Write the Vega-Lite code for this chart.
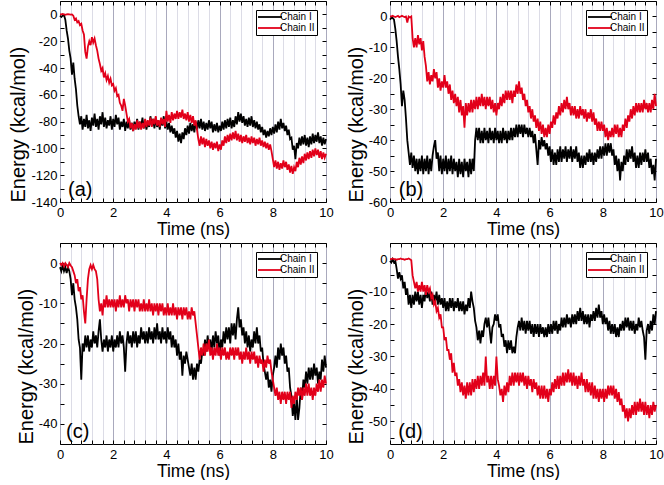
{
"$schema":"https://vega.github.io/schema/vega-lite/v6.json",
"background":"white",
"padding":{"left":8,"top":0,"right":0,"bottom":0},
"bounds":"flush",
"columns":2,
"spacing":{"row":41,"column":64},
"config":{
 "font":"Liberation Sans",
 "view":{"stroke":"black","strokeWidth":1},
 "axis":{"labelFont":"Liberation Sans","labelFontSize":13,"labelColor":"black","titleFont":"Liberation Sans","titleFontWeight":"normal","titleColor":"black","tickColor":"black","tickSize":-4,"domain":false,"labelOverlap":false,"labelFlush":false,"grid":false},
 "axisX":{"titleFontSize":17.5},
 "axisY":{"titleFontSize":20},
 "line":{"strokeWidth":1.8,"clip":true},
 "legend":{"orient":"top-right","offset":9,"strokeColor":"black","fillColor":"white","padding":2,"symbolType":"M-3,0H3","symbolSize":64,"symbolStrokeWidth":1,"symbolOffset":7,"labelOffset":5,"labelFont":"Liberation Sans","labelFontSize":10,"labelColor":"black","rowPadding":1}
},
"datasets":{"md":[
{"t":0,"a1":-1,"a2":0,"b1":-1,"b2":0,"c1":-1,"c2":0,"d1":-0.5,"d2":0},
{"t":0.05,"a1":-2,"a2":0,"b1":-0.5,"b2":0,"c1":-2,"c2":-0.5,"d1":-1,"d2":0},
{"t":0.1,"a1":-1,"a2":0.3,"b1":-0.5,"b2":0.2,"c1":-0.5,"c2":0,"d1":0,"d2":0.2},
{"t":0.15,"a1":-0.5,"a2":0,"b1":-1,"b2":0,"c1":-2,"c2":-0.8,"d1":-1,"d2":0},
{"t":0.2,"a1":-4,"a2":-0.3,"b1":-4,"b2":-0.2,"c1":-1,"c2":0,"d1":-0.5,"d2":0},
{"t":0.25,"a1":-12,"a2":0,"b1":-8,"b2":0,"c1":-2.5,"c2":-0.5,"d1":-3,"d2":-0.2},
{"t":0.3,"a1":-18,"a2":0.2,"b1":-13,"b2":0.2,"c1":-1,"c2":-1,"d1":-6,"d2":0},
{"t":0.35,"a1":-27,"a2":0,"b1":-17,"b2":-0.2,"c1":-2,"c2":0,"d1":-4,"d2":0},
{"t":0.4,"a1":-33,"a2":-0.2,"b1":-22,"b2":0,"c1":-4,"c2":-0.6,"d1":-6,"d2":0.2},
{"t":0.45,"a1":-45,"a2":0,"b1":-29,"b2":0.2,"c1":-8,"c2":-1,"d1":-5,"d2":0},
{"t":0.5,"a1":-36,"a2":-1,"b1":-24,"b2":0,"c1":-5,"c2":-2,"d1":-9,"d2":0},
{"t":0.55,"a1":-48,"a2":-4,"b1":-27,"b2":-0.2,"c1":-9,"c2":-3,"d1":-7,"d2":-0.2},
{"t":0.6,"a1":-56,"a2":-3,"b1":-33,"b2":0,"c1":-11,"c2":-5,"d1":-11,"d2":0},
{"t":0.65,"a1":-68,"a2":-6,"b1":-40,"b2":-2,"c1":-14,"c2":-4,"d1":-9,"d2":0},
{"t":0.7,"a1":-76,"a2":-5,"b1":-44,"b2":0,"c1":-19,"c2":-7,"d1":-14,"d2":0.2},
{"t":0.75,"a1":-82,"a2":-8,"b1":-48,"b2":-0.3,"c1":-21,"c2":-6,"d1":-11,"d2":0},
{"t":0.8,"a1":-76,"a2":-7,"b1":-44,"b2":0,"c1":-29,"c2":-9,"d1":-15,"d2":-0.3},
{"t":0.85,"a1":-86,"a2":-12,"b1":-49,"b2":-7,"c1":-20,"c2":-8,"d1":-11,"d2":-5},
{"t":0.9,"a1":-78,"a2":-15,"b1":-45,"b2":-10,"c1":-22,"c2":-12,"d1":-14,"d2":-7},
{"t":0.95,"a1":-84,"a2":-28,"b1":-50,"b2":-7,"c1":-18,"c2":-15,"d1":-10,"d2":-9},
{"t":1,"a1":-75,"a2":-33,"b1":-46,"b2":-10,"c1":-21,"c2":-9,"d1":-13,"d2":-7},
{"t":1.05,"a1":-85,"a2":-24,"b1":-51,"b2":-6,"c1":-18,"c2":-4,"d1":-10,"d2":-10},
{"t":1.1,"a1":-79,"a2":-20,"b1":-46,"b2":-9,"c1":-22,"c2":-1.5,"d1":-14,"d2":-8},
{"t":1.15,"a1":-87,"a2":-23,"b1":-50,"b2":-7,"c1":-19,"c2":-0.5,"d1":-11,"d2":-10},
{"t":1.2,"a1":-77,"a2":-17,"b1":-45,"b2":-11,"c1":-21,"c2":-1.5,"d1":-15,"d2":-7},
{"t":1.25,"a1":-83,"a2":-21,"b1":-51,"b2":-8,"c1":-17,"c2":-0.5,"d1":-11,"d2":-10},
{"t":1.3,"a1":-74,"a2":-18,"b1":-46,"b2":-13,"c1":-20,"c2":-1.5,"d1":-13,"d2":-8},
{"t":1.35,"a1":-84,"a2":-23,"b1":-50,"b2":-16,"c1":-18,"c2":-2,"d1":-9,"d2":-11},
{"t":1.4,"a1":-78,"a2":-27,"b1":-45,"b2":-21,"c1":-21,"c2":-4,"d1":-12,"d2":-8},
{"t":1.45,"a1":-86,"a2":-33,"b1":-51,"b2":-18,"c1":-17,"c2":-9,"d1":-10,"d2":-10},
{"t":1.5,"a1":-76,"a2":-37,"b1":-46,"b2":-22,"c1":-14,"c2":-12,"d1":-13,"d2":-9},
{"t":1.55,"a1":-82,"a2":-42,"b1":-50,"b2":-19,"c1":-19,"c2":-10,"d1":-10,"d2":-12},
{"t":1.6,"a1":-73,"a2":-40,"b1":-45,"b2":-21,"c1":-22,"c2":-13,"d1":-14,"d2":-11},
{"t":1.65,"a1":-84,"a2":-47,"b1":-42,"b2":-17,"c1":-19,"c2":-9,"d1":-11,"d2":-14},
{"t":1.7,"a1":-77,"a2":-44,"b1":-40,"b2":-20,"c1":-21,"c2":-11,"d1":-13,"d2":-13},
{"t":1.75,"a1":-85,"a2":-49,"b1":-46,"b2":-18,"c1":-18,"c2":-8,"d1":-10,"d2":-16},
{"t":1.8,"a1":-79,"a2":-46,"b1":-44,"b2":-23,"c1":-22,"c2":-11,"d1":-14,"d2":-15},
{"t":1.85,"a1":-83,"a2":-51,"b1":-50,"b2":-20,"c1":-19,"c2":-9,"d1":-11,"d2":-18},
{"t":1.9,"a1":-76,"a2":-48,"b1":-45,"b2":-24,"c1":-21,"c2":-11,"d1":-14,"d2":-17},
{"t":1.95,"a1":-86,"a2":-53,"b1":-51,"b2":-21,"c1":-18,"c2":-9,"d1":-12,"d2":-21},
{"t":2,"a1":-78,"a2":-52,"b1":-46,"b2":-23,"c1":-22,"c2":-11,"d1":-15,"d2":-21},
{"t":2.05,"a1":-84,"a2":-57,"b1":-50,"b2":-19,"c1":-19,"c2":-9,"d1":-12,"d2":-25},
{"t":2.1,"a1":-75,"a2":-55,"b1":-45,"b2":-23,"c1":-21,"c2":-12,"d1":-16,"d2":-24},
{"t":2.15,"a1":-82,"a2":-61,"b1":-51,"b2":-21,"c1":-18,"c2":-9,"d1":-13,"d2":-28},
{"t":2.2,"a1":-77,"a2":-60,"b1":-46,"b2":-25,"c1":-21,"c2":-11,"d1":-16,"d2":-28},
{"t":2.25,"a1":-86,"a2":-66,"b1":-50,"b2":-22,"c1":-17,"c2":-8,"d1":-12,"d2":-31},
{"t":2.3,"a1":-80,"a2":-68,"b1":-45,"b2":-27,"c1":-20,"c2":-11,"d1":-15,"d2":-29},
{"t":2.35,"a1":-84,"a2":-72,"b1":-51,"b2":-24,"c1":-18,"c2":-9,"d1":-12,"d2":-35},
{"t":2.4,"a1":-78,"a2":-63,"b1":-46,"b2":-28,"c1":-21,"c2":-11,"d1":-16,"d2":-32},
{"t":2.45,"a1":-87,"a2":-68,"b1":-50,"b2":-25,"c1":-27,"c2":-8,"d1":-13,"d2":-36},
{"t":2.5,"a1":-80,"a2":-74,"b1":-47,"b2":-29,"c1":-20,"c2":-10,"d1":-15,"d2":-35},
{"t":2.55,"a1":-85,"a2":-80,"b1":-52,"b2":-26,"c1":-17,"c2":-9,"d1":-12,"d2":-39},
{"t":2.6,"a1":-79,"a2":-78,"b1":-46,"b2":-31,"c1":-20,"c2":-12,"d1":-16,"d2":-37},
{"t":2.65,"a1":-86,"a2":-85,"b1":-51,"b2":-27,"c1":-18,"c2":-9,"d1":-13,"d2":-41},
{"t":2.7,"a1":-81,"a2":-81,"b1":-47,"b2":-32,"c1":-21,"c2":-11,"d1":-16,"d2":-38},
{"t":2.75,"a1":-87,"a2":-87,"b1":-52,"b2":-29,"c1":-17,"c2":-9,"d1":-13,"d2":-42},
{"t":2.8,"a1":-80,"a2":-82,"b1":-46,"b2":-36,"c1":-20,"c2":-12,"d1":-17,"d2":-39},
{"t":2.85,"a1":-85,"a2":-86,"b1":-50,"b2":-28,"c1":-17,"c2":-9,"d1":-14,"d2":-43},
{"t":2.9,"a1":-78,"a2":-79,"b1":-47,"b2":-32,"c1":-21,"c2":-11,"d1":-16,"d2":-38},
{"t":2.95,"a1":-86,"a2":-85,"b1":-52,"b2":-28,"c1":-18,"c2":-9,"d1":-12,"d2":-42},
{"t":3,"a1":-80,"a2":-80,"b1":-46,"b2":-31,"c1":-20,"c2":-12,"d1":-15,"d2":-38},
{"t":3.05,"a1":-84,"a2":-86,"b1":-51,"b2":-27,"c1":-16,"c2":-10,"d1":-10,"d2":-42},
{"t":3.1,"a1":-77,"a2":-81,"b1":-46,"b2":-31,"c1":-19,"c2":-12,"d1":-13,"d2":-37},
{"t":3.15,"a1":-85,"a2":-85,"b1":-50,"b2":-27,"c1":-17,"c2":-9,"d1":-15,"d2":-41},
{"t":3.2,"a1":-79,"a2":-78,"b1":-40,"b2":-30,"c1":-20,"c2":-12,"d1":-19,"d2":-37},
{"t":3.25,"a1":-86,"a2":-84,"b1":-36,"b2":-26,"c1":-17,"c2":-10,"d1":-21,"d2":-40},
{"t":3.3,"a1":-80,"a2":-79,"b1":-40,"b2":-30,"c1":-20,"c2":-12,"d1":-25,"d2":-36},
{"t":3.35,"a1":-84,"a2":-83,"b1":-36,"b2":-26,"c1":-16,"c2":-9,"d1":-22,"d2":-40},
{"t":3.4,"a1":-76,"a2":-77,"b1":-41,"b2":-29,"c1":-19,"c2":-12,"d1":-26,"d2":-36},
{"t":3.45,"a1":-83,"a2":-84,"b1":-37,"b2":-25,"c1":-17,"c2":-10,"d1":-22,"d2":-39},
{"t":3.5,"a1":-78,"a2":-78,"b1":-41,"b2":-29,"c1":-20,"c2":-13,"d1":-24,"d2":-35},
{"t":3.55,"a1":-85,"a2":-82,"b1":-36,"b2":-26,"c1":-16,"c2":-10,"d1":-20,"d2":-39},
{"t":3.6,"a1":-77,"a2":-76,"b1":-40,"b2":-30,"c1":-19,"c2":-12,"d1":-18,"d2":-30},
{"t":3.65,"a1":-84,"a2":-83,"b1":-37,"b2":-26,"c1":-15,"c2":-10,"d1":-21,"d2":-38},
{"t":3.7,"a1":-79,"a2":-79,"b1":-41,"b2":-29,"c1":-19,"c2":-13,"d1":-18,"d2":-36},
{"t":3.75,"a1":-86,"a2":-84,"b1":-36,"b2":-26,"c1":-17,"c2":-10,"d1":-22,"d2":-40},
{"t":3.8,"a1":-78,"a2":-77,"b1":-40,"b2":-30,"c1":-20,"c2":-12,"d1":-26,"d2":-36},
{"t":3.85,"a1":-83,"a2":-82,"b1":-37,"b2":-27,"c1":-16,"c2":-10,"d1":-21,"d2":-40},
{"t":3.9,"a1":-76,"a2":-78,"b1":-41,"b2":-31,"c1":-19,"c2":-13,"d1":-20,"d2":-36},
{"t":3.95,"a1":-85,"a2":-84,"b1":-36,"b2":-28,"c1":-17,"c2":-11,"d1":-17,"d2":-39},
{"t":4,"a1":-80,"a2":-72,"b1":-40,"b2":-32,"c1":-20,"c2":-13,"d1":-19,"d2":-30},
{"t":4.05,"a1":-86,"a2":-80,"b1":-37,"b2":-28,"c1":-16,"c2":-10,"d1":-17,"d2":-37},
{"t":4.1,"a1":-81,"a2":-75,"b1":-41,"b2":-30,"c1":-19,"c2":-13,"d1":-21,"d2":-39},
{"t":4.15,"a1":-88,"a2":-81,"b1":-37,"b2":-26,"c1":-17,"c2":-11,"d1":-20,"d2":-42},
{"t":4.2,"a1":-83,"a2":-73,"b1":-41,"b2":-29,"c1":-21,"c2":-13,"d1":-24,"d2":-40},
{"t":4.25,"a1":-89,"a2":-79,"b1":-36,"b2":-25,"c1":-18,"c2":-10,"d1":-23,"d2":-44},
{"t":4.3,"a1":-85,"a2":-74,"b1":-40,"b2":-28,"c1":-21,"c2":-13,"d1":-27,"d2":-39},
{"t":4.35,"a1":-92,"a2":-78,"b1":-37,"b2":-24,"c1":-19,"c2":-11,"d1":-25,"d2":-42},
{"t":4.4,"a1":-87,"a2":-72,"b1":-41,"b2":-27,"c1":-23,"c2":-14,"d1":-29,"d2":-38},
{"t":4.45,"a1":-95,"a2":-78,"b1":-37,"b2":-24,"c1":-20,"c2":-11,"d1":-25,"d2":-41},
{"t":4.5,"a1":-89,"a2":-73,"b1":-40,"b2":-27,"c1":-24,"c2":-13,"d1":-28,"d2":-36},
{"t":4.55,"a1":-96,"a2":-77,"b1":-36,"b2":-24,"c1":-22,"c2":-11,"d1":-25,"d2":-39},
{"t":4.6,"a1":-88,"a2":-71,"b1":-40,"b2":-28,"c1":-28,"c2":-14,"d1":-29,"d2":-35},
{"t":4.65,"a1":-93,"a2":-78,"b1":-36,"b2":-24,"c1":-23,"c2":-11,"d1":-27,"d2":-39},
{"t":4.7,"a1":-85,"a2":-74,"b1":-39,"b2":-26,"c1":-25,"c2":-13,"d1":-29,"d2":-35},
{"t":4.75,"a1":-90,"a2":-79,"b1":-35,"b2":-22,"c1":-22,"c2":-11,"d1":-24,"d2":-38},
{"t":4.8,"a1":-83,"a2":-73,"b1":-39,"b2":-25,"c1":-24,"c2":-14,"d1":-21,"d2":-35},
{"t":4.85,"a1":-89,"a2":-80,"b1":-35,"b2":-21,"c1":-26,"c2":-12,"d1":-19,"d2":-39},
{"t":4.9,"a1":-81,"a2":-75,"b1":-38,"b2":-25,"c1":-28,"c2":-14,"d1":-22,"d2":-35},
{"t":4.95,"a1":-87,"a2":-81,"b1":-35,"b2":-23,"c1":-25,"c2":-11,"d1":-18,"d2":-38},
{"t":5,"a1":-82,"a2":-76,"b1":-39,"b2":-27,"c1":-29,"c2":-13,"d1":-22,"d2":-35},
{"t":5.05,"a1":-88,"a2":-83,"b1":-35,"b2":-25,"c1":-26,"c2":-12,"d1":-19,"d2":-39},
{"t":5.1,"a1":-80,"a2":-79,"b1":-38,"b2":-29,"c1":-29,"c2":-15,"d1":-23,"d2":-36},
{"t":5.15,"a1":-86,"a2":-86,"b1":-36,"b2":-27,"c1":-25,"c2":-18,"d1":-19,"d2":-40},
{"t":5.2,"a1":-79,"a2":-93,"b1":-39,"b2":-31,"c1":-27,"c2":-21,"d1":-22,"d2":-36},
{"t":5.25,"a1":-85,"a2":-98,"b1":-36,"b2":-29,"c1":-24,"c2":-24,"d1":-19,"d2":-39},
{"t":5.3,"a1":-78,"a2":-91,"b1":-39,"b2":-33,"c1":-25,"c2":-21,"d1":-23,"d2":-37},
{"t":5.35,"a1":-86,"a2":-97,"b1":-37,"b2":-30,"c1":-22,"c2":-23,"d1":-20,"d2":-41},
{"t":5.4,"a1":-80,"a2":-92,"b1":-41,"b2":-34,"c1":-23,"c2":-20,"d1":-24,"d2":-37},
{"t":5.45,"a1":-87,"a2":-99,"b1":-38,"b2":-32,"c1":-19,"c2":-23,"d1":-20,"d2":-40},
{"t":5.5,"a1":-81,"a2":-93,"b1":-43,"b2":-36,"c1":-22,"c2":-20,"d1":-23,"d2":-38},
{"t":5.55,"a1":-86,"a2":-98,"b1":-48,"b2":-33,"c1":-18,"c2":-22,"d1":-20,"d2":-42},
{"t":5.6,"a1":-79,"a2":-94,"b1":-40,"b2":-37,"c1":-21,"c2":-19,"d1":-24,"d2":-39},
{"t":5.65,"a1":-85,"a2":-100,"b1":-43,"b2":-34,"c1":-19,"c2":-23,"d1":-20,"d2":-43},
{"t":5.7,"a1":-80,"a2":-95,"b1":-39,"b2":-38,"c1":-22,"c2":-21,"d1":-23,"d2":-39},
{"t":5.75,"a1":-88,"a2":-101,"b1":-42,"b2":-35,"c1":-18,"c2":-24,"d1":-21,"d2":-43},
{"t":5.8,"a1":-82,"a2":-96,"b1":-40,"b2":-39,"c1":-21,"c2":-21,"d1":-24,"d2":-39},
{"t":5.85,"a1":-87,"a2":-100,"b1":-43,"b2":-36,"c1":-17,"c2":-23,"d1":-21,"d2":-43},
{"t":5.9,"a1":-81,"a2":-95,"b1":-41,"b2":-39,"c1":-20,"c2":-20,"d1":-24,"d2":-40},
{"t":5.95,"a1":-88,"a2":-102,"b1":-45,"b2":-35,"c1":-18,"c2":-23,"d1":-20,"d2":-44},
{"t":6,"a1":-83,"a2":-97,"b1":-42,"b2":-38,"c1":-23,"c2":-21,"d1":-23,"d2":-40},
{"t":6.05,"a1":-87,"a2":-101,"b1":-47,"b2":-34,"c1":-19,"c2":-24,"d1":-20,"d2":-42},
{"t":6.1,"a1":-80,"a2":-94,"b1":-43,"b2":-36,"c1":-21,"c2":-21,"d1":-23,"d2":-38},
{"t":6.15,"a1":-86,"a2":-98,"b1":-48,"b2":-32,"c1":-17,"c2":-23,"d1":-19,"d2":-41},
{"t":6.2,"a1":-79,"a2":-91,"b1":-44,"b2":-35,"c1":-20,"c2":-21,"d1":-22,"d2":-37},
{"t":6.25,"a1":-85,"a2":-96,"b1":-48,"b2":-31,"c1":-16,"c2":-24,"d1":-19,"d2":-40},
{"t":6.3,"a1":-78,"a2":-90,"b1":-43,"b2":-33,"c1":-19,"c2":-22,"d1":-23,"d2":-36},
{"t":6.35,"a1":-84,"a2":-95,"b1":-47,"b2":-29,"c1":-16,"c2":-24,"d1":-20,"d2":-40},
{"t":6.4,"a1":-77,"a2":-89,"b1":-42,"b2":-32,"c1":-20,"c2":-21,"d1":-22,"d2":-36},
{"t":6.45,"a1":-85,"a2":-94,"b1":-47,"b2":-28,"c1":-15,"c2":-23,"d1":-18,"d2":-39},
{"t":6.5,"a1":-79,"a2":-88,"b1":-43,"b2":-31,"c1":-18,"c2":-21,"d1":-21,"d2":-35},
{"t":6.55,"a1":-84,"a2":-93,"b1":-46,"b2":-27,"c1":-15,"c2":-24,"d1":-18,"d2":-39},
{"t":6.6,"a1":-76,"a2":-87,"b1":-42,"b2":-30,"c1":-19,"c2":-21,"d1":-21,"d2":-35},
{"t":6.65,"a1":-82,"a2":-94,"b1":-47,"b2":-26,"c1":-14,"c2":-23,"d1":-17,"d2":-38},
{"t":6.7,"a1":-73,"a2":-89,"b1":-43,"b2":-30,"c1":-11,"c2":-21,"d1":-20,"d2":-34},
{"t":6.75,"a1":-80,"a2":-95,"b1":-46,"b2":-28,"c1":-16,"c2":-24,"d1":-18,"d2":-38},
{"t":6.8,"a1":-74,"a2":-90,"b1":-42,"b2":-32,"c1":-14,"c2":-22,"d1":-21,"d2":-35},
{"t":6.85,"a1":-81,"a2":-96,"b1":-47,"b2":-29,"c1":-18,"c2":-25,"d1":-17,"d2":-39},
{"t":6.9,"a1":-76,"a2":-91,"b1":-43,"b2":-32,"c1":-16,"c2":-22,"d1":-20,"d2":-35},
{"t":6.95,"a1":-83,"a2":-95,"b1":-46,"b2":-29,"c1":-20,"c2":-24,"d1":-17,"d2":-39},
{"t":7,"a1":-78,"a2":-90,"b1":-42,"b2":-33,"c1":-17,"c2":-21,"d1":-20,"d2":-36},
{"t":7.05,"a1":-84,"a2":-96,"b1":-47,"b2":-30,"c1":-21,"c2":-24,"d1":-16,"d2":-40},
{"t":7.1,"a1":-77,"a2":-92,"b1":-44,"b2":-33,"c1":-18,"c2":-22,"d1":-19,"d2":-36},
{"t":7.15,"a1":-83,"a2":-97,"b1":-49,"b2":-29,"c1":-22,"c2":-25,"d1":-15,"d2":-39},
{"t":7.2,"a1":-76,"a2":-91,"b1":-45,"b2":-32,"c1":-19,"c2":-22,"d1":-19,"d2":-35},
{"t":7.25,"a1":-84,"a2":-96,"b1":-49,"b2":-30,"c1":-21,"c2":-24,"d1":-16,"d2":-39},
{"t":7.3,"a1":-79,"a2":-92,"b1":-45,"b2":-33,"c1":-17,"c2":-22,"d1":-20,"d2":-37},
{"t":7.35,"a1":-85,"a2":-98,"b1":-48,"b2":-30,"c1":-20,"c2":-25,"d1":-17,"d2":-41},
{"t":7.4,"a1":-80,"a2":-93,"b1":-44,"b2":-34,"c1":-16,"c2":-23,"d1":-20,"d2":-37},
{"t":7.45,"a1":-86,"a2":-97,"b1":-47,"b2":-31,"c1":-20,"c2":-26,"d1":-17,"d2":-41},
{"t":7.5,"a1":-82,"a2":-92,"b1":-43,"b2":-33,"c1":-18,"c2":-23,"d1":-21,"d2":-38},
{"t":7.55,"a1":-88,"a2":-98,"b1":-47,"b2":-30,"c1":-22,"c2":-25,"d1":-17,"d2":-42},
{"t":7.6,"a1":-84,"a2":-94,"b1":-44,"b2":-34,"c1":-21,"c2":-24,"d1":-19,"d2":-38},
{"t":7.65,"a1":-90,"a2":-99,"b1":-48,"b2":-31,"c1":-25,"c2":-27,"d1":-16,"d2":-43},
{"t":7.7,"a1":-86,"a2":-95,"b1":-44,"b2":-35,"c1":-27,"c2":-24,"d1":-19,"d2":-39},
{"t":7.75,"a1":-92,"a2":-100,"b1":-47,"b2":-33,"c1":-29,"c2":-26,"d1":-15,"d2":-43},
{"t":7.8,"a1":-87,"a2":-96,"b1":-43,"b2":-37,"c1":-27,"c2":-23,"d1":-18,"d2":-40},
{"t":7.85,"a1":-91,"a2":-101,"b1":-46,"b2":-34,"c1":-31,"c2":-25,"d1":-14,"d2":-44},
{"t":7.9,"a1":-85,"a2":-97,"b1":-42,"b2":-37,"c1":-29,"c2":-24,"d1":-18,"d2":-40},
{"t":7.95,"a1":-90,"a2":-102,"b1":-46,"b2":-34,"c1":-32,"c2":-27,"d1":-16,"d2":-43},
{"t":8,"a1":-84,"a2":-108,"b1":-42,"b2":-37,"c1":-28,"c2":-29,"d1":-20,"d2":-40},
{"t":8.05,"a1":-89,"a2":-114,"b1":-45,"b2":-35,"c1":-26,"c2":-31,"d1":-17,"d2":-44},
{"t":8.1,"a1":-82,"a2":-109,"b1":-41,"b2":-39,"c1":-23,"c2":-33,"d1":-20,"d2":-40},
{"t":8.15,"a1":-88,"a2":-115,"b1":-45,"b2":-36,"c1":-26,"c2":-31,"d1":-18,"d2":-43},
{"t":8.2,"a1":-80,"a2":-110,"b1":-41,"b2":-40,"c1":-21,"c2":-34,"d1":-22,"d2":-39},
{"t":8.25,"a1":-86,"a2":-116,"b1":-44,"b2":-37,"c1":-24,"c2":-32,"d1":-19,"d2":-42},
{"t":8.3,"a1":-78,"a2":-111,"b1":-41,"b2":-39,"c1":-20,"c2":-35,"d1":-23,"d2":-39},
{"t":8.35,"a1":-85,"a2":-115,"b1":-45,"b2":-36,"c1":-23,"c2":-32,"d1":-20,"d2":-42},
{"t":8.4,"a1":-81,"a2":-109,"b1":-43,"b2":-39,"c1":-21,"c2":-34,"d1":-23,"d2":-39},
{"t":8.45,"a1":-87,"a2":-114,"b1":-48,"b2":-35,"c1":-25,"c2":-32,"d1":-20,"d2":-43},
{"t":8.5,"a1":-83,"a2":-110,"b1":-45,"b2":-38,"c1":-23,"c2":-35,"d1":-24,"d2":-40},
{"t":8.55,"a1":-90,"a2":-116,"b1":-50,"b2":-35,"c1":-27,"c2":-32,"d1":-21,"d2":-44},
{"t":8.6,"a1":-86,"a2":-112,"b1":-46,"b2":-39,"c1":-26,"c2":-34,"d1":-24,"d2":-41},
{"t":8.65,"a1":-93,"a2":-118,"b1":-53,"b2":-36,"c1":-31,"c2":-32,"d1":-20,"d2":-45},
{"t":8.7,"a1":-92,"a2":-113,"b1":-47,"b2":-39,"c1":-33,"c2":-36,"d1":-22,"d2":-43},
{"t":8.75,"a1":-101,"a2":-119,"b1":-50,"b2":-35,"c1":-38,"c2":-33,"d1":-19,"d2":-47},
{"t":8.8,"a1":-98,"a2":-114,"b1":-45,"b2":-37,"c1":-35,"c2":-35,"d1":-22,"d2":-45},
{"t":8.85,"a1":-108,"a2":-117,"b1":-48,"b2":-33,"c1":-39,"c2":-32,"d1":-18,"d2":-49},
{"t":8.9,"a1":-96,"a2":-110,"b1":-43,"b2":-36,"c1":-33,"c2":-34,"d1":-21,"d2":-46},
{"t":8.95,"a1":-100,"a2":-114,"b1":-47,"b2":-32,"c1":-39,"c2":-31,"d1":-18,"d2":-50},
{"t":9,"a1":-92,"a2":-107,"b1":-43,"b2":-34,"c1":-36,"c2":-33,"d1":-22,"d2":-46},
{"t":9.05,"a1":-98,"a2":-112,"b1":-46,"b2":-30,"c1":-31,"c2":-31,"d1":-19,"d2":-49},
{"t":9.1,"a1":-91,"a2":-106,"b1":-42,"b2":-33,"c1":-34,"c2":-34,"d1":-22,"d2":-45},
{"t":9.15,"a1":-97,"a2":-111,"b1":-47,"b2":-29,"c1":-29,"c2":-31,"d1":-19,"d2":-48},
{"t":9.2,"a1":-90,"a2":-104,"b1":-44,"b2":-32,"c1":-31,"c2":-33,"d1":-23,"d2":-44},
{"t":9.25,"a1":-98,"a2":-109,"b1":-49,"b2":-28,"c1":-27,"c2":-30,"d1":-20,"d2":-48},
{"t":9.3,"a1":-92,"a2":-103,"b1":-45,"b2":-31,"c1":-30,"c2":-33,"d1":-22,"d2":-44},
{"t":9.35,"a1":-99,"a2":-108,"b1":-49,"b2":-28,"c1":-26,"c2":-30,"d1":-18,"d2":-47},
{"t":9.4,"a1":-91,"a2":-102,"b1":-44,"b2":-31,"c1":-29,"c2":-33,"d1":-21,"d2":-43},
{"t":9.45,"a1":-97,"a2":-107,"b1":-48,"b2":-28,"c1":-26,"c2":-31,"d1":-19,"d2":-47},
{"t":9.5,"a1":-89,"a2":-101,"b1":-44,"b2":-31,"c1":-29,"c2":-34,"d1":-22,"d2":-44},
{"t":9.55,"a1":-96,"a2":-106,"b1":-47,"b2":-27,"c1":-25,"c2":-31,"d1":-24,"d2":-48},
{"t":9.6,"a1":-90,"a2":-100,"b1":-43,"b2":-30,"c1":-28,"c2":-33,"d1":-31,"d2":-44},
{"t":9.65,"a1":-95,"a2":-105,"b1":-47,"b2":-28,"c1":-26,"c2":-30,"d1":-22,"d2":-48},
{"t":9.7,"a1":-88,"a2":-101,"b1":-44,"b2":-31,"c1":-30,"c2":-32,"d1":-20,"d2":-45},
{"t":9.75,"a1":-96,"a2":-107,"b1":-49,"b2":-28,"c1":-27,"c2":-29,"d1":-23,"d2":-49},
{"t":9.8,"a1":-91,"a2":-102,"b1":-46,"b2":-31,"c1":-29,"c2":-32,"d1":-19,"d2":-45},
{"t":9.85,"a1":-98,"a2":-108,"b1":-51,"b2":-27,"c1":-24,"c2":-29,"d1":-22,"d2":-48},
{"t":9.9,"a1":-92,"a2":-103,"b1":-48,"b2":-30,"c1":-27,"c2":-31,"d1":-17,"d2":-44},
{"t":9.95,"a1":-97,"a2":-107,"b1":-53,"b2":-25,"c1":-23,"c2":-28,"d1":-20,"d2":-47},
{"t":10,"a1":-93,"a2":-104,"b1":-46,"b2":-29,"c1":-26,"c2":-30,"d1":-16,"d2":-45}
]},
"concat":[
 {"width":266,"height":201,
  "layer":[
   {"data":{"name":"md"},"transform":[{"fold":["a1","a2"],"as":["chain","E"]}],
    "mark":{"type":"line"},
    "encoding":{
     "x":{"field":"t","type":"quantitative","scale":{"domain":[0,10],"nice":false},"axis":{"title":"Time (ns)","values":[0,0.4,0.8,1.2,1.6,2,2.4,2.8,3.2,3.6,4,4.4,4.8,5.2,5.6,6,6.4,6.8,7.2,7.6,8,8.4,8.8,9.2,9.6,10],"labelExpr":"datum.value % 2 === 0 ? '' + datum.value : ''","labelFontSize":{"condition":{"test":"datum.value % 2 !== 0","value":0},"value":13},"grid":true,"gridColor":{"condition":{"test":"datum.value % 2 === 0","value":"#a9a9bd"},"value":"#dcdce6"},"labelPadding":8,"titlePadding":1}},
     "y":{"field":"E","type":"quantitative","scale":{"domain":[-140,10],"nice":false,"zero":false},"axis":{"title":"Energy (kcal/mol)","titleAnchor":"start","values":[-140,-130,-120,-110,-100,-90,-80,-70,-60,-50,-40,-30,-20,-10,0,10],"labelExpr":"datum.value % 20 === 0 ? '' + datum.value : ''","labelFontSize":{"condition":{"test":"datum.value % 20 !== 0","value":0},"value":13},"labelPadding":7,"titlePadding":2}},
     "color":{"field":"chain","type":"nominal","scale":{"domain":["a1","a2"],"range":["#000000","#e2001a"]},"legend":{"title":null,"labelExpr":"datum.value == 'a1' ? 'Chain I' : 'Chain II'"}}
    }},
   {"data":{"values":[{"p":"(a)"}]},
    "mark":{"type":"text","align":"left","baseline":"alphabetic","fontSize":20,"font":"Liberation Sans","color":"black"},
    "encoding":{
     "x":{"datum":0.3,"type":"quantitative","axis":{"orient":"top","values":[0,0.4,0.8,1.2,1.6,2,2.4,2.8,3.2,3.6,4,4.4,4.8,5.2,5.6,6,6.4,6.8,7.2,7.6,8,8.4,8.8,9.2,9.6,10],"labels":false,"title":null}},
     "y":{"datum":-135.5,"type":"quantitative","axis":{"orient":"right","values":[-140,-130,-120,-110,-100,-90,-80,-70,-60,-50,-40,-30,-20,-10,0,10],"labels":false,"title":null}},
     "text":{"field":"p"}}}
  ],
  "resolve":{"axis":{"x":"independent","y":"independent"}}},
 {"width":266,"height":201,
  "layer":[
   {"data":{"name":"md"},"transform":[{"fold":["b1","b2"],"as":["chain","E"]}],
    "mark":{"type":"line"},
    "encoding":{
     "x":{"field":"t","type":"quantitative","scale":{"domain":[0,10],"nice":false},"axis":{"title":"Time (ns)","values":[0,0.4,0.8,1.2,1.6,2,2.4,2.8,3.2,3.6,4,4.4,4.8,5.2,5.6,6,6.4,6.8,7.2,7.6,8,8.4,8.8,9.2,9.6,10],"labelExpr":"datum.value % 2 === 0 ? '' + datum.value : ''","labelFontSize":{"condition":{"test":"datum.value % 2 !== 0","value":0},"value":13},"grid":true,"gridColor":{"condition":{"test":"datum.value % 2 === 0","value":"#a9a9bd"},"value":"#dcdce6"},"labelPadding":8,"titlePadding":1}},
     "y":{"field":"E","type":"quantitative","scale":{"domain":[-60,5],"nice":false,"zero":false},"axis":{"title":"Energy (kcal/mol)","titleAnchor":"start","values":[-60,-55,-50,-45,-40,-35,-30,-25,-20,-15,-10,-5,0,5],"labelExpr":"datum.value % 10 === 0 ? '' + datum.value : ''","labelFontSize":{"condition":{"test":"datum.value % 10 !== 0","value":0},"value":13},"labelPadding":7,"titlePadding":2}},
     "color":{"field":"chain","type":"nominal","scale":{"domain":["b1","b2"],"range":["#000000","#e2001a"]},"legend":{"title":null,"labelExpr":"datum.value == 'b1' ? 'Chain I' : 'Chain II'"}}
    }},
   {"data":{"values":[{"p":"(b)"}]},
    "mark":{"type":"text","align":"left","baseline":"alphabetic","fontSize":20,"font":"Liberation Sans","color":"black"},
    "encoding":{
     "x":{"datum":0.33,"type":"quantitative","axis":{"orient":"top","values":[0,0.4,0.8,1.2,1.6,2,2.4,2.8,3.2,3.6,4,4.4,4.8,5.2,5.6,6,6.4,6.8,7.2,7.6,8,8.4,8.8,9.2,9.6,10],"labels":false,"title":null}},
     "y":{"datum":-58,"type":"quantitative","axis":{"orient":"right","values":[-60,-55,-50,-45,-40,-35,-30,-25,-20,-15,-10,-5,0,5],"labels":false,"title":null}},
     "text":{"field":"p"}}}
  ],
  "resolve":{"axis":{"x":"independent","y":"independent"}}},
 {"width":266,"height":201,
  "layer":[
   {"data":{"name":"md"},"transform":[{"fold":["c1","c2"],"as":["chain","E"]}],
    "mark":{"type":"line"},
    "encoding":{
     "x":{"field":"t","type":"quantitative","scale":{"domain":[0,10],"nice":false},"axis":{"title":"Time (ns)","values":[0,0.4,0.8,1.2,1.6,2,2.4,2.8,3.2,3.6,4,4.4,4.8,5.2,5.6,6,6.4,6.8,7.2,7.6,8,8.4,8.8,9.2,9.6,10],"labelExpr":"datum.value % 2 === 0 ? '' + datum.value : ''","labelFontSize":{"condition":{"test":"datum.value % 2 !== 0","value":0},"value":13},"grid":true,"gridColor":{"condition":{"test":"datum.value % 2 === 0","value":"#a9a9bd"},"value":"#dcdce6"},"labelPadding":8,"titlePadding":1}},
     "y":{"field":"E","type":"quantitative","scale":{"domain":[-45,5],"nice":false,"zero":false},"axis":{"title":"Energy (kcal/mol)","titleAnchor":"start","values":[-45,-40,-35,-30,-25,-20,-15,-10,-5,0,5],"labelExpr":"datum.value % 10 === 0 ? '' + datum.value : ''","labelFontSize":{"condition":{"test":"datum.value % 10 !== 0","value":0},"value":13},"labelPadding":7,"titlePadding":2}},
     "color":{"field":"chain","type":"nominal","scale":{"domain":["c1","c2"],"range":["#000000","#e2001a"]},"legend":{"title":null,"labelExpr":"datum.value == 'c1' ? 'Chain I' : 'Chain II'"}}
    }},
   {"data":{"values":[{"p":"(c)"}]},
    "mark":{"type":"text","align":"left","baseline":"alphabetic","fontSize":20,"font":"Liberation Sans","color":"black"},
    "encoding":{
     "x":{"datum":0.23,"type":"quantitative","axis":{"orient":"top","values":[0,0.4,0.8,1.2,1.6,2,2.4,2.8,3.2,3.6,4,4.4,4.8,5.2,5.6,6,6.4,6.8,7.2,7.6,8,8.4,8.8,9.2,9.6,10],"labels":false,"title":null}},
     "y":{"datum":-43.5,"type":"quantitative","axis":{"orient":"right","values":[-45,-40,-35,-30,-25,-20,-15,-10,-5,0,5],"labels":false,"title":null}},
     "text":{"field":"p"}}}
  ],
  "resolve":{"axis":{"x":"independent","y":"independent"}}},
 {"width":266,"height":201,
  "layer":[
   {"data":{"name":"md"},"transform":[{"fold":["d1","d2"],"as":["chain","E"]}],
    "mark":{"type":"line"},
    "encoding":{
     "x":{"field":"t","type":"quantitative","scale":{"domain":[0,10],"nice":false},"axis":{"title":"Time (ns)","values":[0,0.4,0.8,1.2,1.6,2,2.4,2.8,3.2,3.6,4,4.4,4.8,5.2,5.6,6,6.4,6.8,7.2,7.6,8,8.4,8.8,9.2,9.6,10],"labelExpr":"datum.value % 2 === 0 ? '' + datum.value : ''","labelFontSize":{"condition":{"test":"datum.value % 2 !== 0","value":0},"value":13},"grid":true,"gridColor":{"condition":{"test":"datum.value % 2 === 0","value":"#a9a9bd"},"value":"#dcdce6"},"labelPadding":8,"titlePadding":1}},
     "y":{"field":"E","type":"quantitative","scale":{"domain":[-57,5],"nice":false,"zero":false},"axis":{"title":"Energy (kcal/mol)","titleAnchor":"start","values":[-55,-50,-45,-40,-35,-30,-25,-20,-15,-10,-5,0,5],"labelExpr":"datum.value % 10 === 0 ? '' + datum.value : ''","labelFontSize":{"condition":{"test":"datum.value % 10 !== 0","value":0},"value":13},"labelPadding":7,"titlePadding":2}},
     "color":{"field":"chain","type":"nominal","scale":{"domain":["d1","d2"],"range":["#000000","#e2001a"]},"legend":{"title":null,"labelExpr":"datum.value == 'd1' ? 'Chain I' : 'Chain II'"}}
    }},
   {"data":{"values":[{"p":"(d)"}]},
    "mark":{"type":"text","align":"left","baseline":"alphabetic","fontSize":20,"font":"Liberation Sans","color":"black"},
    "encoding":{
     "x":{"datum":0.31,"type":"quantitative","axis":{"orient":"top","values":[0,0.4,0.8,1.2,1.6,2,2.4,2.8,3.2,3.6,4,4.4,4.8,5.2,5.6,6,6.4,6.8,7.2,7.6,8,8.4,8.8,9.2,9.6,10],"labels":false,"title":null}},
     "y":{"datum":-55.1,"type":"quantitative","axis":{"orient":"right","values":[-55,-50,-45,-40,-35,-30,-25,-20,-15,-10,-5,0,5],"labels":false,"title":null}},
     "text":{"field":"p"}}}
  ],
  "resolve":{"axis":{"x":"independent","y":"independent"}}}
],
"resolve":{"scale":{"color":"independent","x":"independent","y":"independent"},"legend":{"color":"independent"}}
}
